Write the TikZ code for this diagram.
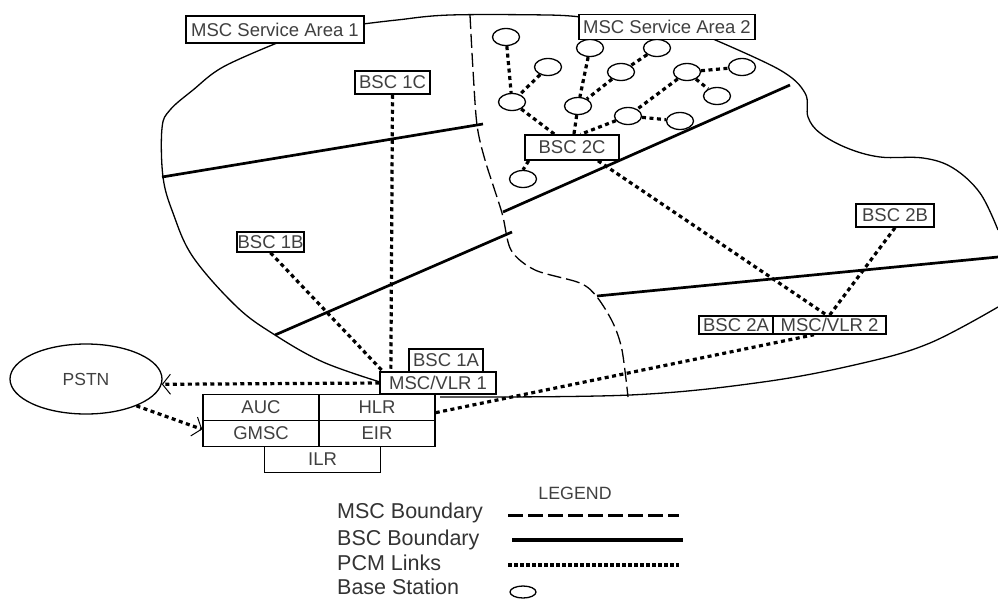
\documentclass[tikz,border=0pt]{standalone}
\usepackage{fontspec}
\setmainfont{Liberation Sans}
\usetikzlibrary{arrows.meta,shapes.geometric}

\tikzset{
  boxnode/.style={draw,line width=1.5pt,fill=white,inner sep=0pt,text=black!75,font=\fontsize{18.5}{20}\selectfont},
  cellnode/.style={boxnode,minimum width=116pt,minimum height=26pt},
  baseStation/.style={draw,ellipse,line width=1.3pt,fill=white,minimum width=27pt,minimum height=17pt,inner sep=0pt},
  legendtext/.style={anchor=west,inner sep=0pt,text=black!80,font=\fontsize{21.5}{22}\selectfont},
  outerline/.style={line width=1.3pt},
  mscline/.style={line width=1.3pt,dash pattern=on 14pt off 5pt},
  bscline/.style={line width=2.7pt},
  pcmlink/.style={line width=3.2pt,dash pattern=on 4pt off 3.5pt},
  opentip/.style={-{Straight Barb[length=8pt,width=20pt,line width=1pt]}}
}

\begin{document}
\begin{tikzpicture}[x=1pt,y=-1pt]
\useasboundingbox (0,0) rectangle (998,600);

% === Outer boundary ===
\draw[outerline] plot[smooth,tension=0.6] coordinates {(277,43) (223,67) (193,90) (170,110) (162,128) (163,177) (173,213) (193,257) (237,307) (275,335) (323,362) (380,382)};
\draw[outerline] plot[smooth,tension=0.6] coordinates {(440,397) (630,395) (763,382) (863,363) (930,343) (998,307)};
\draw[outerline] plot[smooth,tension=0.6] coordinates {(713,39) (780,70) (805,93) (808,117) (820,133) (847,148) (880,157) (923,158) (953,168) (980,193) (998,230)};
\draw[outerline] plot[smooth,tension=0.6] coordinates {(363,24) (397,20) (450,15) (548,15) (580,17)};

% === MSC boundary between the two areas ===
\draw[mscline] plot[smooth,tension=0.5] coordinates {(470,15) (473,70) (477,125) (485,160) (502,213) (511,250) (535,270) (580,283) (597,297) (613,323) (622,350) (628,397)};

% === BSC boundaries ===
\draw[bscline] (162,177) -- (483,124);
\draw[bscline] (503,212) -- (790,85);
\draw[bscline] (275,335) -- (512,232);
\draw[bscline] (597,296) -- (998,257);

% === Base stations ===
\foreach \name/\x/\y in {bsa/506/37,bsb/548/67,bsc/590/48,bsd/657/48,bse/621/72,bsf/687/72,bsg/742/67,bsh/717/96,bsi/512/102,bsj/578/106,bsk/628/116,bsl/680/121,bsm/523/179} {
    \node[baseStation] (\name) at (\x,\y) {};
}

% === Area labels and controllers ===
\node[boxnode,minimum width=178pt,minimum height=27pt] (area1) at (275,29.5) {MSC Service Area 1};
\node[boxnode,minimum width=176pt,minimum height=25pt] (area2) at (667,27) {MSC Service Area 2};
\node[boxnode,minimum width=75pt,minimum height=23pt] (bsc1c) at (392.5,82.5) {BSC 1C};
\node[boxnode,minimum width=94pt,minimum height=25pt] (bsc2c) at (572,147.5) {BSC 2C};
\node[boxnode,minimum width=67pt,minimum height=20pt] (bsc1b) at (270.5,242) {BSC 1B};
\node[boxnode,minimum width=78pt,minimum height=23pt] (bsc2b) at (895,215.5) {BSC 2B};
\node[boxnode,minimum width=74pt,minimum height=18pt] (bsc2a) at (736,325) {BSC 2A};
\node[boxnode,minimum width=113pt,minimum height=18pt] (vlr2) at (829.5,325) {MSC/VLR 2};
\node[boxnode,minimum width=74pt,minimum height=23pt] (bsc1a) at (446,360.5) {BSC 1A};
\node[boxnode,minimum width=116pt,minimum height=22pt] (vlr1) at (438,383) {MSC/VLR 1};

% === Switching centre ===
\node[cellnode] (auc) at (261,407.5) {AUC};
\node[cellnode] (hlr) at (377,407.5) {HLR};
\node[cellnode] (gmsc) at (261,433.5) {GMSC};
\node[cellnode] (eir) at (377,433.5) {EIR};
\node[cellnode] (ilr) at (322.5,459.5) {ILR};
\node[draw,ellipse,line width=1.3pt,minimum width=152pt,minimum height=70pt,inner sep=0pt,text=black!75,font=\fontsize{17.5}{20}\selectfont] (pstn) at (86,379) {PSTN};

% === PCM links ===
\foreach \from/\to in {bsa/bsi,bsb/bsi,bsi/bsc2c,bsc/bsj,bse/bsj,bsd/bse,bsj/bsc2c,bsf/bsk,bsf/bsg,bsf/bsh,bsk/bsl} {
    \draw[pcmlink] (\from) -- (\to);
}
\draw[pcmlink] (bsk) -- (bsc2c.57);
\draw[pcmlink] (bsc2c.197) -- (bsm.north);
\draw[pcmlink] (bsc1c.south) -- (vlr1.166);
\draw[pcmlink] (bsc1b.south) -- (vlr1.168);
\draw[pcmlink] (bsc2c.-27) -- (vlr2.105);
\draw[pcmlink] (bsc2b.south) -- (vlr2.north);
\draw[pcmlink] (hlr.-5) -- (vlr2.212);
\draw[pcmlink,opentip] (vlr1.west) -- (pstn.-4);
\draw[pcmlink,opentip] (pstn.-28) -- (gmsc.176);

% === Legend ===
\node[inner sep=0pt,text=black!75,font=\fontsize{17.8}{20}\selectfont] (legend) at (575,493) {LEGEND};
\node[legendtext] (lmsc) at (337,513) {MSC Boundary};
\node[legendtext] (lbsc) at (337,540) {BSC Boundary};
\node[legendtext] (lpcm) at (337,563) {PCM Links};
\node[legendtext] (lbase) at (337,587) {Base Station};

\coordinate (mscA) at (508,515);
\coordinate (mscB) at (679,515);
\coordinate (bscA) at (512,540);
\coordinate (bscB) at (683,540);
\coordinate (pcmA) at (508,565);
\coordinate (pcmB) at (679,565);
\draw[line width=3pt,dash pattern=on 15pt off 5pt] (mscA) -- (mscB);
\draw[line width=3.5pt] (bscA) -- (bscB);
\draw[line width=3.2pt,dash pattern=on 4pt off 2pt] (pcmA) -- (pcmB);
\node[baseStation,minimum width=26pt,minimum height=12pt] (lstation) at (523,592) {};

\end{tikzpicture}
\end{document}
